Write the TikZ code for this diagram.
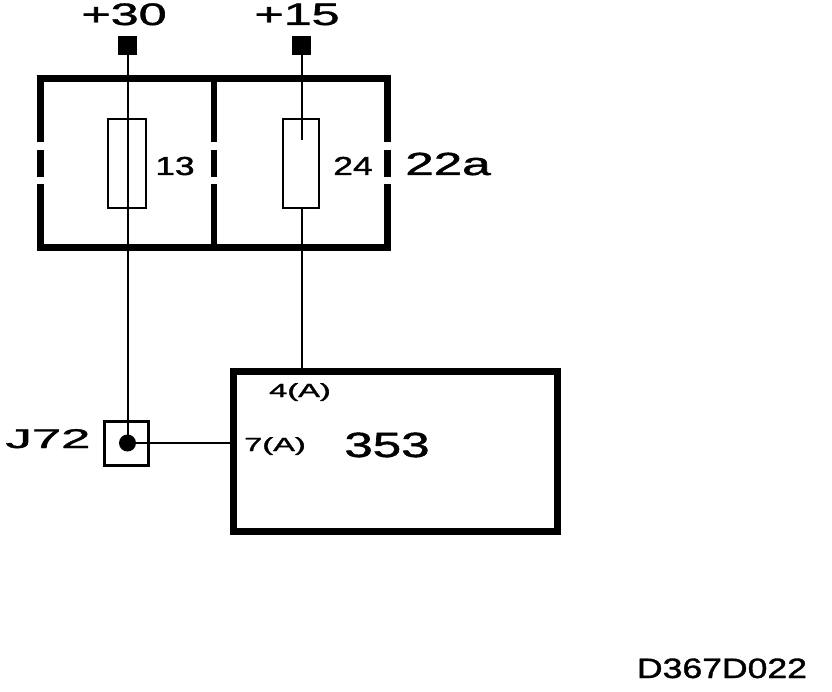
\documentclass[tikz,border=0pt]{standalone}
\usepackage{fontspec}
\setmainfont{Liberation Sans}
\newfontfamily\thick[FakeBold=1.2]{Liberation Sans}
\usepackage{tikz}
\usetikzlibrary{positioning}

\newcommand{\sx}[2]{\scalebox{#1}[1]{#2}}
\newcommand{\fs}[1]{\thick\fontsize{#1}{#1}\selectfont}

\tikzset{
  lbl/.style={anchor=base, inner sep=0pt},
  term/.style={fill=black, rectangle, minimum size=19pt, inner sep=0pt},
  wire/.style={line width=2pt},
  frame/.style={line width=7pt},
  fuse/.style={draw, rectangle, line width=2pt, inner sep=0pt}
}

\begin{document}
\begin{tikzpicture}[x=1pt, y=1pt]
        \useasboundingbox (0,0) rectangle (832,-692);

        % Klemmen oben
        \node[term] (t30) at (127.5,-46) {};
        \node[term] (t15) at (301.5,-46) {};
        \node[lbl, font=\fs{31}] (l30) at (124,-25) {\sx{1.62}{+30}};
        \node[lbl, font=\fs{31}] (l15) at (297,-25) {\sx{1.62}{+15}};

        % Sicherungskasten 22a
        \draw[frame] (36.5,-79) -- (390.5,-79);
        \draw[frame] (36.5,-248) -- (390.5,-248);
        \draw[frame, dash pattern=on 63pt off 8pt on 27pt off 7pt on 64pt] (40,-79) -- (40,-248);
        \draw[line width=6pt, dash pattern=on 63pt off 8pt on 27pt off 7pt on 64pt] (214,-79) -- (214,-248);
        \draw[frame, dash pattern=on 63pt off 8pt on 27pt off 7pt on 64pt] (387,-79) -- (387,-248);

        \node[fuse, minimum width=38pt, minimum height=89pt] (f13) at (127,-163.5) {};
        \node[fuse, minimum width=36pt, minimum height=89pt] (f24) at (301,-163.5) {};
        \node[lbl, font=\fs{26}] (l13) at (175,-175) {\sx{1.36}{13}};
        \node[lbl, font=\fs{26}] (l24) at (353,-175) {\sx{1.36}{24}};
        \node[lbl, font=\fs{32}] (l22a) at (448,-175) {\sx{1.6}{22a}};

        % Steuergeraet 353
        \draw[frame] (233,-371) rectangle (557,-531);
        \coordinate (p4) at (301.5,-371);
        \coordinate (p7) at (233,-443);
        \node[lbl, font=\fs{19}] (l4) at (300,-397) {\sx{1.72}{4(A)}};
        \node[lbl, font=\fs{19}] (l7) at (275,-451) {\sx{1.72}{7(A)}};
        \node[lbl, font=\fs{35}] (l353) at (387,-457) {\sx{1.46}{353}};

        % Verbinder J72
        \draw[line width=3pt] (104,-421) rectangle (148,-465);
        \node[circle, fill=black, minimum size=17pt, inner sep=0pt] (j72) at (127.5,-443) {};
        \node[lbl, font=\fs{27}] (lj72) at (48,-448) {\sx{1.95}{J72}};

        % Leitungen
        \draw[wire] (t30.center) -- (j72.center);
        \coordinate (c24) at (301.5,-140);
        \draw[wire] (t15.center) -- (c24);
        \draw[wire] (f24.south -| p4) -- (p4);
        \draw[wire] (j72.center) -- (p7);

        \node[lbl, font=\fs{28}] (code) at (722,-678) {\sx{1.27}{D367D022}};
    \end{tikzpicture}
\end{document}
